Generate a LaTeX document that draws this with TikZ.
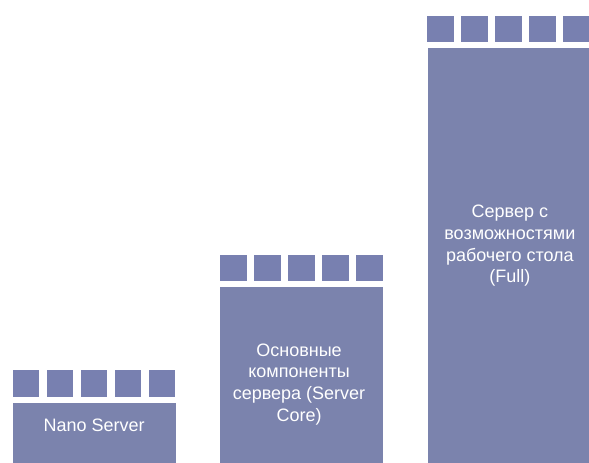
\documentclass[tikz,border=0pt]{standalone}
\usepackage{fontspec}
\setmainfont{Liberation Sans}
\usepackage{xcolor}
\usetikzlibrary{positioning}
\definecolor{srvblue}{RGB}{123,131,173}
\definecolor{tileblue}{RGB}{120,128,176}

\begin{document}
\begin{tikzpicture}[x=1pt, y=1pt,
    body/.style={fill=srvblue, minimum width=162.7pt, inner sep=0pt, anchor=north west},
    tile/.style={fill=tileblue, minimum size=26.7pt, inner sep=0pt},
    caption/.style={text=white, font=\fontsize{18}{21.7}\selectfont, align=center, inner sep=0pt}]
        \useasboundingbox (0,0) rectangle (589,463);

        % columns with their row of tiles
        \foreach \name/\x/\top in {nano/12.7/60.3, core/220/175.7, full/427.3/414.7} {
            \node[body, minimum height=\top pt] (\name) at (\x,\top) {};
            \foreach \i in {1,...,5}
                \node[tile] (\name-t\i) at (\x+13.35+34*\i-34, \top+19.35) {};
        }

        \node[caption] (nano-text) [below=15.6pt of nano.north] {Nano Server};
        \node[caption] (core-text) [below=56pt of core.north, xshift=-2.5pt]
            {Основные\\компоненты\\сервера (Server\\Core)};
        \node[caption] (full-text) [below=156.7pt of full.north, xshift=1pt]
            {Сервер с\\возможностями\\рабочего стола\\(Full)};

    \end{tikzpicture}
\end{document}
